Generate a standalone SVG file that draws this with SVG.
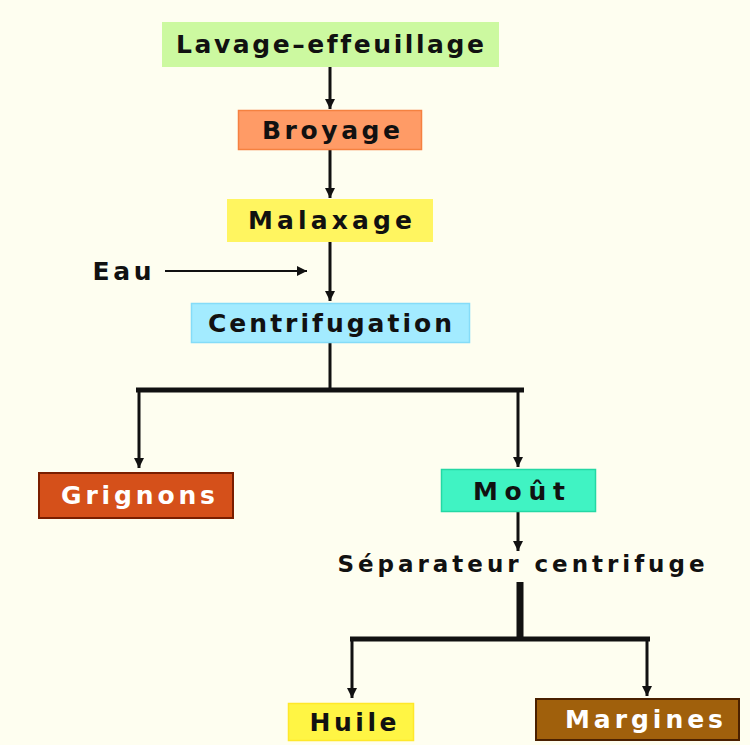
<svg xmlns="http://www.w3.org/2000/svg" width="750" height="745" viewBox="0 0 750 745">
<defs>
<style>
.t{font-family:"DejaVu Sans","Verdana",sans-serif;font-weight:bold;font-size:25px;text-anchor:middle;fill:#111;font-variant-ligatures:none}
.w{fill:#fff}
.ln{stroke:#111;stroke-width:3;fill:none}
</style>
<marker id="ah" markerWidth="12" markerHeight="10" refX="10" refY="5" orient="auto" markerUnits="userSpaceOnUse"><path d="M0,0 L10,5 L0,10 z" fill="#111"/></marker>
</defs>
<rect width="750" height="745" fill="#fefef0"/>
<g id="connectors">
<path class="ln" d="M330,67 V109" marker-end="url(#ah)"/>
<path class="ln" d="M330,150 V198" marker-end="url(#ah)"/>
<path class="ln" d="M330,242 V301" marker-end="url(#ah)"/>
<path class="ln" style="stroke-width:2" d="M165,271 H307" marker-end="url(#ah)"/>
<path class="ln" d="M330,343 V390"/>
<path class="ln" style="stroke-width:5" d="M136,390 H524"/>
<path class="ln" d="M139,390 V468" marker-end="url(#ah)"/>
<path class="ln" d="M518,390 V467" marker-end="url(#ah)"/>
<path class="ln" d="M518,512 V551" marker-end="url(#ah)"/>
<path class="ln" style="stroke-width:7" d="M520,582 V640"/>
<path class="ln" style="stroke-width:5" d="M350,639 H650"/>
<path class="ln" d="M352,639 V698" marker-end="url(#ah)"/>
<path class="ln" d="M647,639 V696" marker-end="url(#ah)"/>
</g>
<g id="lavage">
<rect x="162" y="22" width="337" height="45" fill="#ccf9a0"/>
<text class="t" x="330" y="53" textLength="308" lengthAdjust="spacing">Lavage–effeuillage</text>
</g>
<g id="broyage">
<rect x="238.5" y="110.5" width="183" height="39" fill="#ff9b66" stroke="#f58140" stroke-width="1.5"/>
<text class="t" x="331" y="139" textLength="138" lengthAdjust="spacing">Broyage</text>
</g>
<g id="malaxage">
<rect x="227" y="199" width="206" height="43" fill="#fff560"/>
<text class="t" x="330" y="229" textLength="164" lengthAdjust="spacing">Malaxage</text>
</g>
<g id="eau">
<text class="t" x="122" y="280" textLength="59" lengthAdjust="spacing">Eau</text>
</g>
<g id="centrifugation">
<rect x="191.5" y="303.5" width="278" height="39" fill="#a3ebff" stroke="#85dcf8" stroke-width="1.5"/>
<text class="t" x="330" y="332" textLength="244" lengthAdjust="spacing">Centrifugation</text>
</g>
<g id="grignons">
<rect x="39" y="473" width="194" height="45" fill="#d5501a" stroke="#7a1e00" stroke-width="2"/>
<text class="t w" x="138" y="504" textLength="154" lengthAdjust="spacing">Grignons</text>
</g>
<g id="mout">
<rect x="441.5" y="469.5" width="154" height="42" fill="#40f3c3" stroke="#24d8a4" stroke-width="1.5"/>
<text class="t" x="519" y="500" textLength="92" lengthAdjust="spacing">Moût</text>
</g>
<g id="separateur">
<text class="t" x="521" y="572" textLength="367" lengthAdjust="spacing" style="font-size:23px">Séparateur centrifuge</text>
</g>
<g id="huile">
<rect x="288.5" y="703.5" width="125" height="37" fill="#fff544" stroke="#ffe82a" stroke-width="1.5"/>
<text class="t" x="353" y="731" textLength="87" lengthAdjust="spacing">Huile</text>
</g>
<g id="margines">
<rect x="536" y="699" width="203" height="41" fill="#a0600c" stroke="#4a2000" stroke-width="2"/>
<text class="t w" x="644" y="728" textLength="158" lengthAdjust="spacing">Margines</text>
</g>
</svg>
